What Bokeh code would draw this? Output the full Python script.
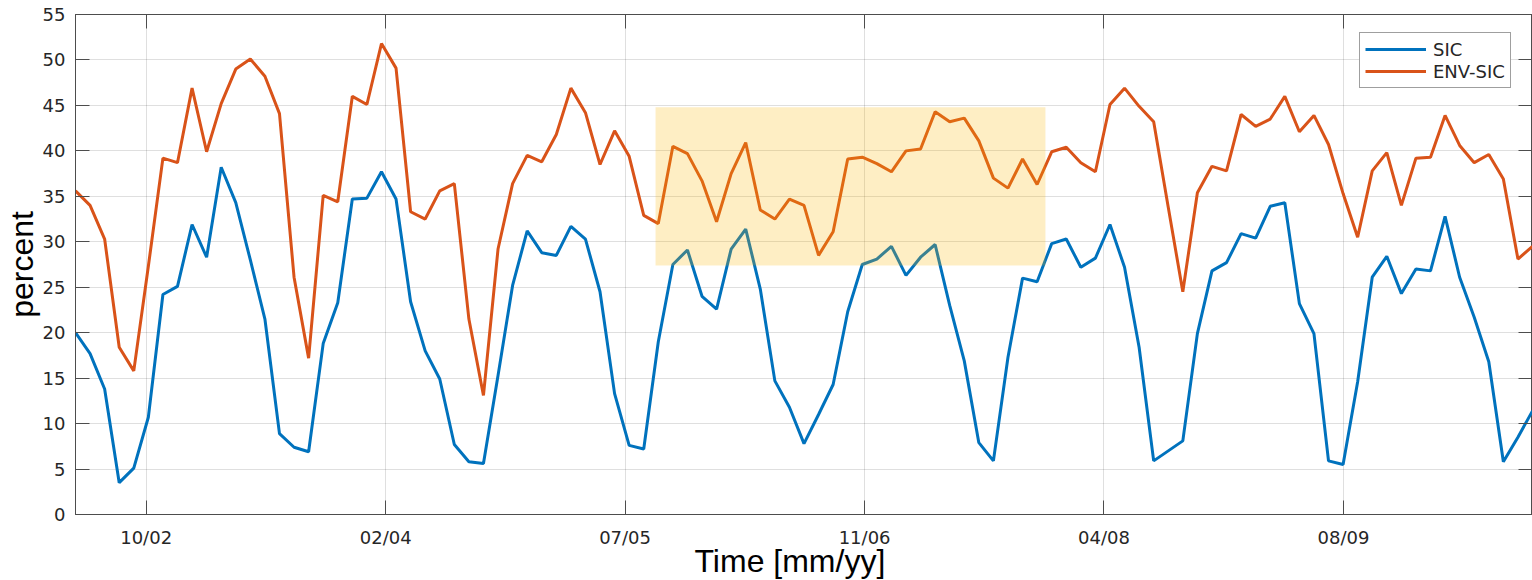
from bokeh.plotting import figure
from bokeh.models import (Range1d, FixedTicker, LinearAxis, Title, ColumnDataSource,
                          CustomLabelingPolicy)
from bokeh.embed import file_html
from bokeh.resources import INLINE

# ---- data (monthly samples, index = month number) ----
months = list(range(101))
sic = [20.0, 17.7, 13.8, 3.5, 5.1, 10.7, 24.2, 25.1, 31.9, 28.3,
       38.2, 34.3, 28.0, 21.5, 8.9, 7.4, 6.9, 18.8, 23.3, 34.7,
       34.8, 37.7, 34.7, 23.4, 18.0, 14.9, 7.7, 5.8, 5.6, 15.3,
       25.2, 31.2, 28.8, 28.5, 31.7, 30.3, 24.5, 13.3, 7.6, 7.2,
       19.0, 27.5, 29.1, 24.0, 22.6, 29.2, 31.4, 24.8, 14.7, 11.8,
       7.8, 11.0, 14.3, 22.3, 27.5, 28.1, 29.5, 26.3, 28.3, 29.7,
       23.0, 16.9, 7.9, 5.9, 17.3, 26.0, 25.6, 29.8, 30.3, 27.2,
       28.2, 31.9, 27.2, 18.4, 5.9, 7.0, 8.1, 19.9, 26.8, 27.7,
       30.9, 30.4, 33.9, 34.3, 23.2, 19.9, 5.9, 5.5, 14.6, 26.1,
       28.4, 24.3, 27.0, 26.8, 32.8, 26.1, 21.7, 16.8, 5.8, 8.5,
       11.4]
env_sic = [35.6, 34.0, 30.3, 18.4, 15.8, 27.3, 39.2, 38.7, 46.9, 39.9,
           45.2, 49.0, 50.1, 48.2, 44.1, 26.1, 17.2, 35.1, 34.4, 46.0,
           45.1, 51.8, 49.1, 33.3, 32.5, 35.6, 36.4, 21.5, 13.1, 29.2,
           36.4, 39.5, 38.8, 41.8, 46.9, 44.2, 38.5, 42.2, 39.4, 32.9,
           32.0, 40.5, 39.7, 36.7, 32.2, 37.5, 40.9, 33.5, 32.5, 34.7,
           34.0, 28.5, 31.1, 39.1, 39.3, 38.6, 37.7, 40.0, 40.2, 44.3,
           43.2, 43.6, 41.1, 37.0, 35.9, 39.1, 36.3, 39.9, 40.4, 38.7,
           37.7, 45.1, 46.9, 44.9, 43.2, 33.8, 24.5, 35.4, 38.3, 37.8,
           44.0, 42.7, 43.5, 46.0, 42.1, 43.9, 40.7, 35.3, 30.5, 37.8,
           39.8, 34.0, 39.2, 39.3, 43.9, 40.6, 38.7, 39.6, 36.9, 28.1,
           29.5]

x_tick_pos = [4.85, 21.29, 37.72, 54.16, 70.59, 87.03]
x_tick_labels = ["10/02", "02/04", "07/05", "11/06", "04/08", "08/09"]
y_ticks = [0, 5, 10, 15, 20, 25, 30, 35, 40, 45, 50, 55]

highlight_left = [39.81]
highlight_right = [66.57]
highlight_bottom = [27.4]
highlight_top = [44.8]

# ---- styling ----
AX = "#4d4d4d"
TXT = "#262626"
TICK_FONT = "DejaVu Sans"
LABEL_FONT = "Liberation Sans"

src = ColumnDataSource(dict(month=months, sic=sic, env=env_sic))

p = figure(frame_width=1457, frame_height=500,
           x_range=Range1d(0, 100), y_range=Range1d(0, 55),
           output_backend="svg", toolbar_location=None,
           min_border_left=75, min_border_right=0, min_border_top=14,
           min_border_bottom=66)
p.background_fill_color = "white"
p.border_fill_color = "white"
p.outline_line_color = AX
p.outline_line_width = 1

p.line("month", "sic", source=src, color="#0072BD", line_width=3, legend_label="SIC")
p.line("month", "env", source=src, color="#D95319", line_width=3, legend_label="ENV-SIC")
p.quad(left=highlight_left, right=highlight_right, bottom=highlight_bottom,
       top=highlight_top, fill_color="#F9B600", fill_alpha=0.23, line_color=None)

# axes
xa = p.xaxis[0]
xa.ticker = FixedTicker(ticks=x_tick_pos)
xa.major_label_overrides = {t: l for t, l in zip(x_tick_pos, x_tick_labels)}
xa.major_label_standoff = 12
ya = p.yaxis[0]
ya.ticker = FixedTicker(ticks=y_ticks)
ya.axis_label = "percent"
ya.axis_label_text_font = LABEL_FONT
ya.axis_label_text_font_size = "32px"
ya.axis_label_text_font_style = "normal"
ya.axis_label_text_color = "black"
ya.axis_label_standoff = 0
ya.major_label_standoff = 10

# top / right axes only carry the inward tick marks (no labels)
hide_labels = CustomLabelingPolicy(code="""
let empty = indices;
try { empty = new indices.constructor(indices.size, 0); } catch (err) { empty = indices; }
return empty;
""")
top_ax = LinearAxis(ticker=FixedTicker(ticks=x_tick_pos), major_label_policy=hide_labels)
right_ax = LinearAxis(ticker=FixedTicker(ticks=y_ticks), major_label_policy=hide_labels)
p.add_layout(top_ax, "above")
p.add_layout(right_ax, "right")

for ax in (xa, ya, top_ax, right_ax):
    ax.axis_line_color = AX
    ax.axis_line_width = 1
    ax.major_tick_line_color = AX
    ax.major_tick_in = 14
    ax.major_tick_out = 0
    ax.minor_tick_line_color = None
    ax.major_label_text_font = TICK_FONT
    ax.major_label_text_font_size = "18px"
    ax.major_label_text_color = TXT
for ax in (top_ax, right_ax):
    ax.major_label_text_font_size = "0px"
    ax.major_label_standoff = 0

p.xgrid.grid_line_color = "#262626"
p.xgrid.grid_line_alpha = 0.15
p.ygrid.grid_line_color = "#262626"
p.ygrid.grid_line_alpha = 0.15

# x label as a title below, positioned like the reference
p.add_layout(Title(text="Time [mm/yy]", align="left", offset=619, vertical_align="top",
                   standoff=-15, text_font=LABEL_FONT, text_font_size="32px",
                   text_font_style="normal", text_color="black"), "below")

# legend
lg = p.legend[0]
lg.location = (1284, 426)
lg.label_text_font = TICK_FONT
lg.label_text_font_size = "18px"
lg.label_text_color = TXT
lg.border_line_color = "#404040"
lg.border_line_width = 1
lg.background_fill_color = "white"
lg.background_fill_alpha = 1
lg.padding = 5
lg.spacing = 0
lg.margin = 0
lg.glyph_width = 61
lg.glyph_height = 22
lg.label_height = 22
lg.label_standoff = 7

open("out.html", "w").write(file_html(p, INLINE))
